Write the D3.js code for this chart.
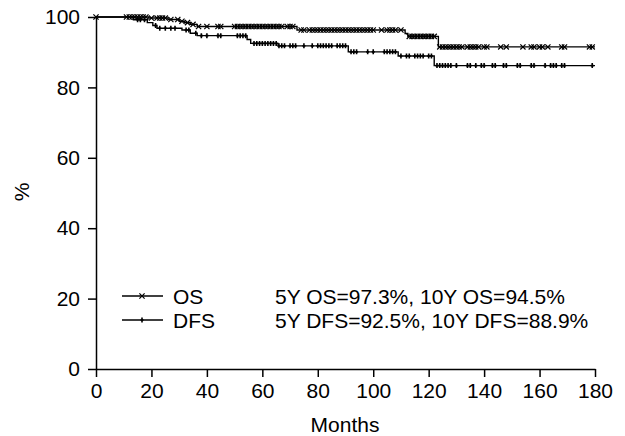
<!DOCTYPE html>
<html>
<head>
<meta charset="utf-8">
<script src="https://cdn.jsdelivr.net/npm/d3@7"></script>
<style>
  body { margin: 0; background: #fff; }
  text { font-family: "Liberation Sans", Arial, sans-serif; fill: #000; }
</style>
</head>
<body>
<svg id="svg" width="625" height="436"></svg>
<script>
// step drops: [month, survival % after the drop]
var osSteps = [[0, 100], [19, 99.7], [26, 99.3], [30, 98.8], [32, 98.4], [34, 97.9], [36.5, 97.3],
               [72.5, 96.3], [111.5, 95.3], [112.5, 94.5], [123.5, 91.5]];
var dfsSteps = [[0, 100], [13.5, 99.2], [18.5, 98.4], [20.5, 97.6], [22, 96.8], [31, 96.3], [34, 95.4],
                [36.5, 94.7], [54.5, 93.6], [55.8, 92.5], [65.7, 91.8], [91, 90.1], [109, 88.9], [122, 86.2]];

// censored times (months)
var osCensor = [0, 11, 12, 13, 14, 15, 16, 17, 18, 20, 22, 23, 24, 25, 27, 29.5, 31, 33, 35, 37, 40, 44, 45,
                50, 51, 52, 53, 54, 55, 56, 57, 58, 59, 60, 61, 62, 63, 64, 65, 66, 67, 69, 70, 71, 74, 75,
                77, 78, 79, 80, 81, 82, 83, 84, 85, 86, 87, 88, 89, 90, 91, 92, 93, 94, 95, 96, 97, 98, 99,
                100, 103, 105, 106, 107, 108, 110, 113, 114, 115, 116, 117, 118, 119, 120, 121, 122, 124,
                125, 126, 127, 128, 129, 130, 131, 132, 134, 135, 136, 137, 138, 140, 141, 146, 148, 154,
                157, 158, 160, 161, 163, 168, 169, 178, 179];
var dfsCensor = [15, 16, 17.5, 21.5, 23, 25, 27, 28.5, 32.5, 33.5, 36, 38, 40, 44, 45, 51, 52, 53, 54,
                 57, 58, 59, 60, 61, 62, 63, 64, 65, 66, 67, 68, 70, 71, 72, 75, 78, 80, 81, 82, 83, 84,
                 85, 87, 88, 89, 90, 92, 93, 94, 98, 100, 104, 105, 106, 107, 108, 110, 112, 113, 115,
                 116, 117, 118, 120, 121, 123, 124, 125, 126, 127, 128, 130, 134, 135, 137, 139, 140,
                 143, 144, 147, 148, 152, 153, 157, 158, 162, 164, 165, 166, 168, 169, 179];

var xTicks = [0, 20, 40, 60, 80, 100, 120, 140, 160, 180];
var yTicks = [0, 20, 40, 60, 80, 100];
var legendNames = ["OS", "DFS"];
var legendStats = ["5Y OS=97.3%, 10Y OS=94.5%", "5Y DFS=92.5%, 10Y DFS=88.9%"];

var svg = d3.select("svg");
var x = d3.scaleLinear().domain([0, 180]).range([96, 595]);
var y = d3.scaleLinear().domain([0, 100]).range([369, 17]);

function survAt(steps, t) {
    var v = 100;
    steps.forEach(function(s) { if (s[0] <= t) v = s[1]; });
    return v;
}

var xAxis = svg.append("g").attr("transform", "translate(0,369)")
    .call(d3.axisBottom(x).tickValues(xTicks).tickSize(8).tickSizeOuter(0).tickPadding(6));
var yAxis = svg.append("g").attr("transform", "translate(96,0)")
    .call(d3.axisLeft(y).tickValues(yTicks).tickSize(8).tickSizeOuter(0).tickPadding(8));
[xAxis, yAxis].forEach(function(a) {
    a.selectAll("path, line").attr("stroke", "#000").attr("stroke-width", 1.5);
    a.selectAll("text").style("font-size", "21px").attr("fill", "#000");
});

svg.append("text").attr("x", 345).attr("y", 432).attr("text-anchor", "middle")
    .style("font-size", "21px").text("Months");
svg.append("text").attr("transform", "translate(29,192) rotate(-90)").attr("text-anchor", "middle")
    .style("font-size", "21px").text("%");

var line = d3.line().curve(d3.curveStepAfter)
    .x(function(d) { return x(d[0]); }).y(function(d) { return y(d[1]); });

function drawCurve(steps, censor, marker) {
    var pts = steps.concat([[180, steps[steps.length - 1][1]]]);
    svg.append("path").datum(pts).attr("d", line)
        .attr("fill", "none").attr("stroke", "#000").attr("stroke-width", 1.4);
    censor.forEach(function(t) {
        marker(x(t), y(survAt(steps, t)));
    });
}

function cross(cx, cy) {
    var s = 2.6;
    svg.append("path").attr("d", "M" + (cx - s) + "," + (cy - s) + "L" + (cx + s) + "," + (cy + s) +
        "M" + (cx - s) + "," + (cy + s) + "L" + (cx + s) + "," + (cy - s))
        .attr("stroke", "#000").attr("stroke-width", 1.2);
}
function plus(cx, cy) {
    svg.append("path").attr("d", "M" + cx + "," + (cy - 2.5) + "L" + cx + "," + (cy + 2.5) +
        "M" + (cx - 1.5) + "," + cy + "L" + (cx + 1.5) + "," + cy)
        .attr("stroke", "#000").attr("stroke-width", 1.6);
}

drawCurve(osSteps, osCensor, cross);
drawCurve(dfsSteps, dfsCensor, plus);

// legend
var markers = [cross, plus];
legendNames.forEach(function(name, i) {
    var ly = 296 + i * 24;
    svg.append("line").attr("x1", 122).attr("x2", 163).attr("y1", ly).attr("y2", ly)
        .attr("stroke", "#000").attr("stroke-width", 1.4);
    markers[i](142, ly);
    svg.append("text").attr("x", 173).attr("y", ly).attr("dy", "0.36em")
        .style("font-size", "21px").text(name);
    svg.append("text").attr("x", 275).attr("y", ly).attr("dy", "0.36em")
        .style("font-size", "21px").text(legendStats[i]);
});
</script>
</body>
</html>
